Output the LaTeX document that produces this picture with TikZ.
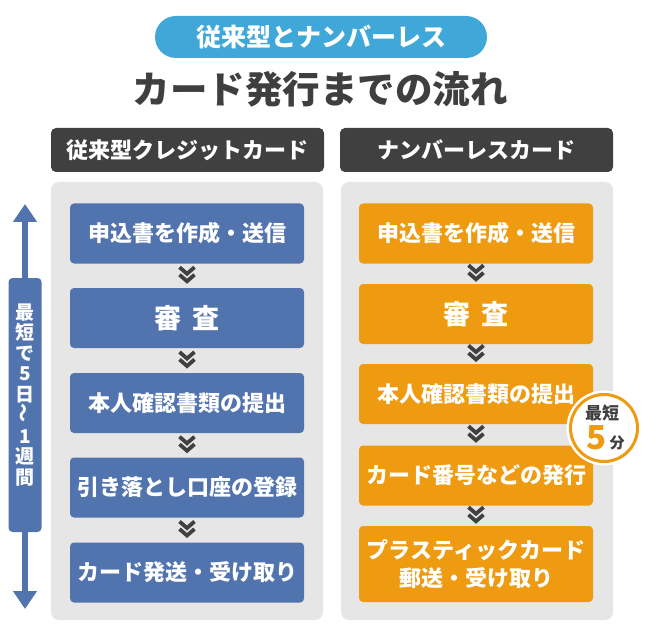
\documentclass[tikz,border=0pt]{standalone}
\usepackage{fontspec}
\setmainfont{Noto Sans CJK JP}
\usetikzlibrary{arrows.meta,calc}
\definecolor{pillblue}{HTML}{40A8D8}
\definecolor{flowblue}{HTML}{5274AE}
\definecolor{floworange}{HTML}{EF9B11}
\definecolor{darkhead}{HTML}{404040}
\definecolor{panelgray}{HTML}{E6E6E6}
\definecolor{titlegray}{HTML}{3F3F3F}
\tikzset{
  every picture/.style={x=1pt, y=-1pt, line join=round},
  panel/.style={fill=panelgray, rounded corners=8pt},
  head/.style={fill=darkhead, text=white, rounded corners=5pt, minimum width=273pt, minimum height=44pt, inner sep=0pt, font=\fontsize{22}{24}\selectfont\bfseries},
  flow/.style={text=white, rounded corners=4pt, minimum width=234pt, minimum height=60pt, inner sep=0pt, align=center, font=\fontsize{22}{28}\selectfont\bfseries},
  lbox/.style={flow, fill=flowblue},
  rbox/.style={flow, fill=floworange},
  big/.style={font=\fontsize{27}{30}\selectfont\bfseries},
  chev/.pic={\draw[line width=3.8pt, darkhead, line join=miter, line cap=butt] (-7.5,-8.5)--(0,-2)--(7.5,-8.5) (-7.5,-1)--(0,5.5)--(7.5,-1);},
}

\begin{document}
\begin{tikzpicture}
\useasboundingbox (0,0) rectangle (650,636);
% heading
\node[fill=pillblue, text=white, rounded corners=21pt, minimum width=332pt, minimum height=42pt, inner sep=0pt, font=\fontsize{25}{28}\selectfont\bfseries] (pill) at (321,37) {従来型とナンバーレス};
\node[text=titlegray, font=\fontsize{37.5}{40}\selectfont\bfseries] (title) at (320,89) {カード発行までの流れ};
% two columns
\node[head] (lhead) at (187.5,150) {従来型クレジットカード};
\node[head] (rhead) at (476.5,150) {ナンバーレスカード};
\fill[panel] (51,182) rectangle (323,620);
\fill[panel] (341,182) rectangle (613,620);
% conventional card
\node[lbox] (l1) at (187,233.5) {申込書を作成・送信};
\node[lbox, big] (l2) at (187,318) {審\hspace{12pt}査};
\node[lbox] (l3) at (187,403) {本人確認書類の提出};
\node[lbox] (l4) at (187,487.5) {引き落とし口座の登録};
\node[lbox] (l5) at (187,572.5) {カード発送・受け取り};
% numberless card
\node[rbox] (r1) at (476,233.5) {申込書を作成・送信};
\node[rbox, big] (r2) at (476,314) {審\hspace{12pt}査};
\node[rbox] (r3) at (476,394) {本人確認書類の提出};
\node[rbox] (r4) at (476,475.5) {カード番号などの発行};
\node[rbox, minimum height=76pt] (r5) at (476,564) {プラスティックカード\\郵送・受け取り};
\foreach \a/\b in {l1/l2,l2/l3,l3/l4,l4/l5,r1/r2,r2/r3,r3/r4,r4/r5}
  \pic at ($(\a.south)!0.5!(\b.north)$) {chev};
% time span
\node[fill=flowblue, rounded corners=4pt, minimum width=33pt, minimum height=254pt, inner sep=0pt] (span) at (25,405) {};
\coordinate (spantop) at (25,204);
\coordinate (spanbot) at (25,609);
\draw[flowblue, line width=6pt, -{Triangle[width=23pt,length=18pt]}] (span.north) -- (spantop);
\draw[flowblue, line width=6pt, -{Triangle[width=23pt,length=18pt]}] (span.south) -- (spanbot);
\node[text=white, align=center, inner sep=0pt, font=\fontsize{19}{20.5}\selectfont\bfseries] (spantxt) at (25,395) {最\\短\\で\\5\\日\\\rotatebox{90}{～}\\1\\週\\間};
% badge
\node[circle, fill=white, draw=floworange, line width=3pt, minimum size=67pt, preaction={draw=white, line width=8pt}] (badge) at (604,428) {};
\node[text=titlegray, font=\fontsize{17}{18}\selectfont\bfseries] (badgetop) at (602,413) {最短};
\node[text=floworange, font=\fontsize{33}{34}\selectfont\bfseries] (badgenum) at (597,438) {5};
\node[text=titlegray, font=\fontsize{15}{16}\selectfont\bfseries] (badgeunit) at (617,443) {分};
\end{tikzpicture}
\end{document}
